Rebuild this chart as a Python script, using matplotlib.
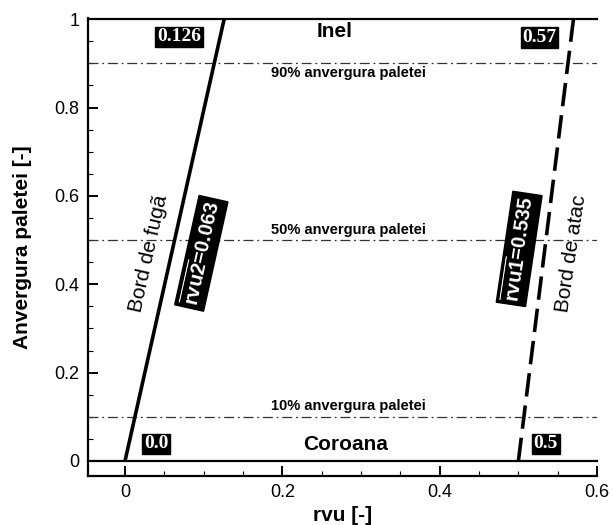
import matplotlib
matplotlib.use("Agg")
import matplotlib.pyplot as plt
from matplotlib.ticker import MultipleLocator, FuncFormatter

plt.rcParams['font.family'] = ['Liberation Sans', 'DejaVu Sans']
plt.rcParams['mathtext.fontset'] = 'custom'
plt.rcParams['mathtext.rm'] = 'Liberation Sans'
plt.rcParams['mathtext.bf'] = 'Liberation Sans:bold'

# date
fuga_rvu = [0.0, 0.126]
atac_rvu = [0.5, 0.57]
span = [0.0, 1.0]
nivele = [0.1, 0.5, 0.9]
nivel_txt = ['10% anvergura paletei', '50% anvergura paletei', '90% anvergura paletei']

fig = plt.figure(figsize=(6.13, 5.25), dpi=100)
ax = fig.add_axes([0.1436, 0.0933, 0.8304, 0.8727])

xmin, xmax = -0.047, 0.6
ax.set_xlim(xmin, xmax)
ax.set_ylim(-0.034, 1.003)

# coroana / inel
ax.plot([xmin, xmax], [0, 0], color='black', lw=1.6, clip_on=False)
ax.plot([xmin, xmax], [1, 1], color='black', lw=1.6, clip_on=False)

for y, t in zip(nivele, nivel_txt):
    ax.plot([xmin, xmax], [y, y], color='#333333', lw=0.9, ls=(0, (8, 3, 1.5, 3)))
    if y > 0.8:
        ax.text(0.284, y - 0.006, t, ha='center', va='top', fontsize=10.5, fontweight='bold')
    else:
        ax.text(0.284, y + 0.008, t, ha='center', va='bottom', fontsize=10.5, fontweight='bold')

ax.plot(fuga_rvu, span, color='black', lw=2.6, solid_capstyle='butt')
ax.plot(atac_rvu, span, color='black', lw=2.6, ls=(0, (6.5, 2.5)))

ax.text(0.266, 0.973, 'Inel', ha='center', va='center', fontsize=15, fontweight='bold')
ax.text(0.28, 0.038, 'Coroana', ha='center', va='center', fontsize=15, fontweight='bold')

box = dict(facecolor='black', edgecolor='black', pad=1.2)
for x, y, s in [(0.0688, 0.960, '0.126'), (0.527, 0.959, '0.57'),
                (0.0395, 0.0385, '0.0'), (0.535, 0.0385, '0.5')]:
    ax.text(x, y, s, ha='center', va='center', color='white', fontsize=14,
            fontweight='bold', family='Liberation Serif', bbox=box)

ax.text(0.030, 0.47, 'Bord de fugã', rotation=77.4, ha='center', va='center',
        fontsize=15, rotation_mode='anchor')
ax.text(0.097, 0.47, r'$\overline{\mathbf{rvu2}}$=0.063', rotation=77.4,
        ha='center', va='center', fontsize=14.5, fontweight='bold', color='white',
        rotation_mode='anchor', bbox=dict(facecolor='black', edgecolor='black', pad=2.2))
ax.text(0.501, 0.48, r'$\overline{\mathbf{rvu1}}$=0.535', rotation=81.5,
        ha='center', va='center', fontsize=14.5, fontweight='bold', color='white',
        rotation_mode='anchor', bbox=dict(facecolor='black', edgecolor='black', pad=2.2))
ax.text(0.567, 0.47, 'Bord de atac', rotation=81.5, ha='center', va='center',
        fontsize=15, rotation_mode='anchor')

ax.spines['top'].set_visible(False)
ax.spines['right'].set_visible(False)
ax.spines['left'].set_linewidth(1.6)
ax.spines['bottom'].set_linewidth(1.6)

ax.xaxis.set_major_locator(MultipleLocator(0.2))
ax.xaxis.set_minor_locator(MultipleLocator(0.05))
ax.yaxis.set_major_locator(MultipleLocator(0.2))
ax.yaxis.set_minor_locator(MultipleLocator(0.05))
fmt = FuncFormatter(lambda v, p: '%g' % round(v, 3))
ax.xaxis.set_major_formatter(fmt)
ax.yaxis.set_major_formatter(fmt)
ax.tick_params(which='major', direction='in', length=7, width=1.4, labelsize=13, pad=6)
ax.tick_params(which='minor', direction='in', length=3.5, width=0.8)

ax.set_xlabel('rvu [-]', fontsize=15, fontweight='bold', labelpad=3)
ax.set_ylabel('Anvergura paletei [-]', fontsize=15, fontweight='bold', labelpad=16)

fig.savefig('out.png', dpi=100)
